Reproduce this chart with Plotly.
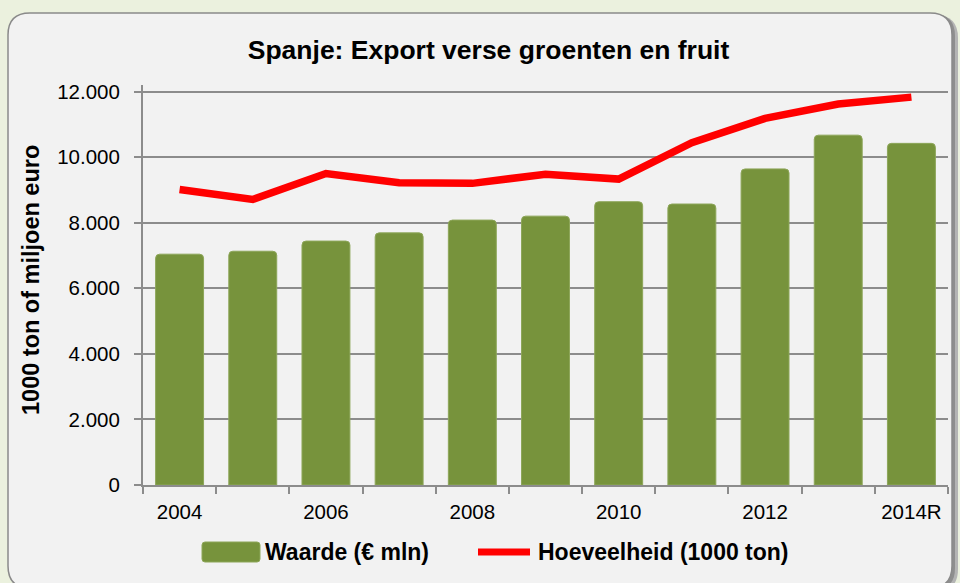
import plotly.graph_objects as go

# ---- data ----
years = ["2004", "2005", "2006", "2007", "2008", "2009", "2010", "2011", "2012", "2013", "2014R"]
waarde = [7040, 7130, 7440, 7690, 8080, 8200, 8640, 8570, 9640, 10670, 10420]
hoeveelheid = [9010, 8710, 9500, 9220, 9200, 9480, 9330, 10440, 11180, 11620, 11830]
tick_labels = [y if i % 2 == 0 else "" for i, y in enumerate(years)]
y_ticks = [0, 2000, 4000, 6000, 8000, 10000, 12000]
y_tick_text = ["0", "2.000", "4.000", "6.000", "8.000", "10.000", "12.000"]
name_bar = "Waarde (€ mln)"
name_line = "Hoeveelheid (1000 ton)"
title_text = "Spanje: Export verse groenten en fruit"
ytitle_text = "1000 ton of miljoen euro"

W, H = 960, 583
ML, MR, MT, MB = 143, 12, 85, 98
PW, PH = W - ML - MR, H - MT - MB
FONT = "Liberation Sans, Arial, sans-serif"
GREEN = "#77933C"
RED = "#FF0000"
GRID = "#8C8C8C"


def px(x):
    return (x - ML) / PW


def py(y):
    return (H - MB - y) / PH


def rounded_path(x0, y0, x1, y1, r):
    # pixel coords (y down) -> paper path
    X0, X1 = px(x0), px(x1)
    Y0, Y1 = py(y0), py(y1)  # Y0 top (larger), Y1 bottom
    rx, ry = r / PW, r / PH
    return (f"M {X0+rx},{Y0} L {X1-rx},{Y0} Q {X1},{Y0} {X1},{Y0-ry} "
            f"L {X1},{Y1+ry} Q {X1},{Y1} {X1-rx},{Y1} L {X0+rx},{Y1} "
            f"Q {X0},{Y1} {X0},{Y1+ry} L {X0},{Y0-ry} Q {X0},{Y0} {X0+rx},{Y0} Z")


fig = go.Figure()
fig.add_trace(go.Bar(
    x=years, y=waarde, name=name_bar,
    marker=dict(color=GREEN, line=dict(color="#8DA659", width=1), cornerradius=4),
    showlegend=False,
))
fig.add_trace(go.Scatter(
    x=years, y=hoeveelheid, name=name_line, mode="lines",
    line=dict(color=RED, width=7.5), showlegend=False,
))

shapes = [
    # soft shadow layers
    dict(type="path", xref="paper", yref="paper", layer="below",
         path=rounded_path(11, 15, 958, 592, 23), fillcolor="#B4B4B4", line=dict(width=0)),
    dict(type="path", xref="paper", yref="paper", layer="below",
         path=rounded_path(10, 14, 955, 590, 22), fillcolor="#8E8E8E", line=dict(width=0)),
    # panel
    dict(type="path", xref="paper", yref="paper", layer="below",
         path=rounded_path(8, 13, 952, 588, 22), fillcolor="#F2F2F2",
         line=dict(color="#8A8A8A", width=1.5)),
    # legend swatches
    dict(type="path", xref="paper", yref="paper", layer="above",
         path=rounded_path(202, 542, 260, 562, 3), fillcolor=GREEN,
         line=dict(color="#8DA659", width=1)),
    dict(type="line", xref="paper", yref="paper", layer="above",
         x0=px(478), x1=px(530), y0=py(552), y1=py(552),
         line=dict(color=RED, width=7)),
]

annotations = [
    dict(text=f"<b>{ytitle_text}</b>", xref="paper", yref="paper",
         x=px(31), y=py(280), textangle=-90, showarrow=False,
         font=dict(family=FONT, size=23.5, color="#000000"), xanchor="center", yanchor="middle"),
    dict(text=f"<b>{name_bar}</b>", xref="paper", yref="paper",
         x=px(263), y=py(552), showarrow=False, xanchor="left", yanchor="middle",
         font=dict(family=FONT, size=23, color="#000000")),
    dict(text=f"<b>{name_line}</b>", xref="paper", yref="paper",
         x=px(536), y=py(552), showarrow=False, xanchor="left", yanchor="middle",
         font=dict(family=FONT, size=23, color="#000000")),
]

fig.update_layout(
    width=W, height=H,
    margin=dict(l=ML, r=MR, t=MT, b=MB, pad=0),
    paper_bgcolor="#EBF1DE",
    plot_bgcolor="#FFFFFF",
    bargap=0.345,
    font=dict(family=FONT, size=20, color="#000000"),
    title=dict(text=f"<b>{title_text}</b>", x=px(488.5), xref="paper", xanchor="center",
               y=1 - 50 / H, yref="container", yanchor="middle",
               font=dict(family=FONT, size=26.5, color="#000000")),
    shapes=shapes,
    annotations=annotations,
    showlegend=False,
)
fig.update_xaxes(
    type="category", tickson="boundaries",
    tickvals=years, ticktext=tick_labels,
    ticks="outside", ticklen=7, tickwidth=2, tickcolor=GRID,
    showline=True, linecolor=GRID, linewidth=2,
    showgrid=False, tickfont=dict(size=20.5, family=FONT),
    ticklabelstandoff=7,
)
fig.update_yaxes(
    range=[0, 12200], tickvals=y_ticks, ticktext=y_tick_text,
    ticks="outside", ticklen=7, tickwidth=2, tickcolor=GRID,
    showline=True, linecolor=GRID, linewidth=2,
    showgrid=True, gridcolor=GRID, gridwidth=1.5,
    zeroline=False, ticklabelstandoff=10,
    tickfont=dict(size=20.5, family=FONT),
)

fig.write_html("out.html")
